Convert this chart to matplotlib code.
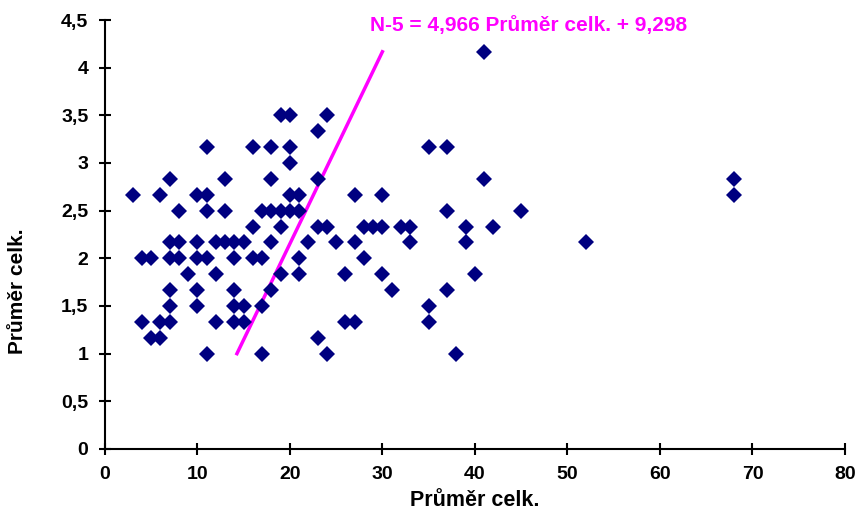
import numpy as np
import matplotlib.pyplot as plt

plt.rcParams['font.family'] = ['Liberation Sans', 'DejaVu Sans']

# Points, grouped by y level (Průměr celk.)
y_levels = [1.0, 7/6, 4/3, 1.5, 5/3, 11/6, 2.0, 13/6, 7/3, 2.5, 8/3, 17/6, 3.0, 19/6, 10/3, 3.5, 25/6]
x_by_level = [
    [11, 17, 24, 38],
    [5, 6, 23],
    [4, 6, 7, 12, 14, 15, 26, 27, 35],
    [7, 10, 14, 15, 17, 35],
    [7, 10, 14, 18, 31, 37],
    [9, 12, 19, 21, 26, 30, 40],
    [4, 5, 7, 8, 10, 11, 14, 16, 17, 21, 28],
    [7, 8, 10, 12, 13, 14, 15, 18, 22, 25, 27, 33, 39, 52],
    [16, 19, 23, 24, 28, 29, 30, 32, 33, 39, 42],
    [8, 11, 13, 17, 18, 19, 20, 21, 37, 45],
    [3, 6, 10, 11, 20, 21, 27, 30, 68],
    [7, 13, 18, 23, 41, 68],
    [20],
    [11, 16, 18, 20, 35, 37],
    [23],
    [19, 20, 24],
    [41],
]

# trend line as printed: x = 4,966 * y + 9,298
slope = 4.966
intercept = 9.298
line_y = np.array([1.0, 25/6])
line_x = slope * line_y + intercept

xs = [x for xl in x_by_level for x in xl]
ys = [y for y, xl in zip(y_levels, x_by_level) for _ in xl]

fig = plt.figure(figsize=(8.57, 5.13), dpi=100)
ax = fig.add_axes([0.1225, 0.1248, 0.8635, 0.8362])

ax.plot(xs, ys, linestyle='none', marker='D', markersize=7.8,
        color='#000080', markeredgewidth=0, zorder=3)
ax.plot(line_x, line_y, color='#ff00ff', linewidth=2.5, zorder=2)

ax.text(28.6, 4.44, 'N-5 = 4,966 Průměr celk. + 9,298', color='#ff00ff',
        fontsize=15, fontweight='bold', ha='left', va='center')

ax.set_xlim(0, 80)
ax.set_ylim(0, 4.5)
ax.set_xticks(np.arange(0, 81, 10))
yt = np.arange(0, 4.51, 0.5)
ax.set_yticks(yt)
ax.set_yticklabels([('%g' % v).replace('.', ',') for v in yt])

for s in ['top', 'right']:
    ax.spines[s].set_visible(False)
for s in ['left', 'bottom']:
    ax.spines[s].set_linewidth(1.5)
ax.tick_params(direction='inout', length=8, width=1.5, labelsize=14, pad=8)
for lab in ax.get_xticklabels() + ax.get_yticklabels():
    lab.set_fontweight('bold')

ax.set_xlabel('Průměr celk.', fontsize=15.5, fontweight='bold', labelpad=5)
ax.set_ylabel('Průměr celk.', fontsize=15, fontweight='bold')
ax.yaxis.set_label_coords(-0.106, 0.368)

fig.savefig('out.png', dpi=100)
